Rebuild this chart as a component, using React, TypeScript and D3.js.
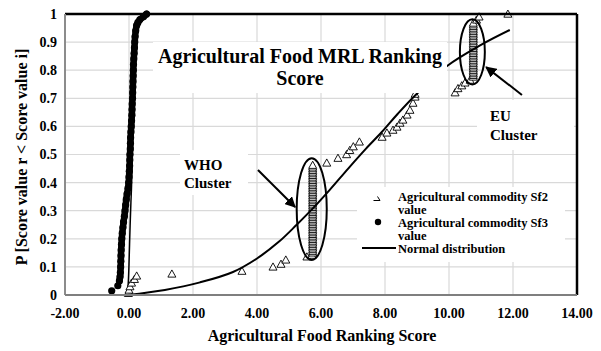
import React from "react";
import * as d3 from "d3";

const W = 601;
const H = 351;

const xTicks = [-2, 0, 2, 4, 6, 8, 10, 12, 14];
const xTickLabels = ["-2.00", "0.00", "2.00", "4.00", "6.00", "8.00", "10.00", "12.00", "14.00"];
const yTicks = [0, 0.1, 0.2, 0.3, 0.4, 0.5, 0.6, 0.7, 0.8, 0.9, 1];
const yTickLabels = ["0", "0.1", "0.2", "0.3", "0.4", "0.5", "0.6", "0.7", "0.8", "0.9", "1"];

// Agricultural commodity Sf3 value (black dots)
const sf3Y = [0.015, 0.033, 0.05, 0.065, 0.08, 0.1, 0.12, 0.14, 0.16, 0.18, 0.2, 0.22, 0.24, 0.26, 0.28, 0.3, 0.32, 0.34, 0.36, 0.38, 0.4, 0.42, 0.44, 0.46, 0.48, 0.5, 0.52, 0.54, 0.56, 0.58, 0.6, 0.62, 0.64, 0.66, 0.68, 0.7, 0.72, 0.74, 0.76, 0.78, 0.8, 0.82, 0.84, 0.86, 0.88, 0.9, 0.92, 0.94, 0.96, 0.97, 0.98, 0.99, 1.0];
const sf3X = [-0.54, -0.35, -0.3, -0.28, -0.27, -0.26, -0.255, -0.25, -0.245, -0.235, -0.225, -0.21, -0.19, -0.17, -0.145, -0.125, -0.105, -0.085, -0.06, -0.03, -0.01, 0.0, 0.01, 0.02, 0.025, 0.03, 0.04, 0.045, 0.05, 0.06, 0.07, 0.08, 0.09, 0.095, 0.1, 0.11, 0.115, 0.12, 0.125, 0.13, 0.135, 0.14, 0.15, 0.16, 0.17, 0.18, 0.19, 0.21, 0.24, 0.28, 0.34, 0.45, 0.55];

// Agricultural commodity Sf2 value (open triangles), scattered points
const sf2X = [-0.02, -0.01, 0.0, 0.03, 0.08, 0.17, 0.24, 1.34, 3.53, 4.5, 4.75, 4.9, 5.56, 5.72, 6.18, 6.53, 6.8, 6.9, 7.01, 7.2, 7.91, 8.06, 8.25, 8.375, 8.47, 8.56, 8.69, 8.78, 8.875, 8.94, 8.94, 10.19, 10.28, 10.4, 10.5, 10.66, 10.86, 10.94, 11.84];
const sf2Y = [0.006, 0.012, 0.018, 0.03, 0.043, 0.056, 0.068, 0.075, 0.085, 0.1, 0.11, 0.125, 0.136, 0.142, 0.47, 0.487, 0.5, 0.515, 0.528, 0.545, 0.562, 0.577, 0.587, 0.598, 0.612, 0.623, 0.641, 0.658, 0.683, 0.705, 0.715, 0.72, 0.735, 0.745, 0.755, 0.765, 0.979, 0.99, 1.0];

// Sf2 values in the WHO cluster (x ≈ 5.74)
const whoClusterX = 5.74;
const whoClusterY = [0.15, 0.156, 0.162, 0.168, 0.174, 0.18, 0.186, 0.192, 0.198, 0.204, 0.21, 0.216, 0.222, 0.228, 0.234, 0.24, 0.246, 0.252, 0.258, 0.264, 0.27, 0.276, 0.282, 0.288, 0.294, 0.3, 0.306, 0.312, 0.318, 0.324, 0.33, 0.336, 0.342, 0.348, 0.354, 0.36, 0.366, 0.372, 0.378, 0.384, 0.39, 0.396, 0.402, 0.408, 0.414, 0.42, 0.426, 0.432, 0.438, 0.444, 0.45, 0.456, 0.462];

// Sf2 values in the EU cluster (x ≈ 10.76)
const euClusterX = 10.76;
const euClusterY = [0.776, 0.782, 0.788, 0.794, 0.8, 0.806, 0.812, 0.818, 0.824, 0.83, 0.836, 0.842, 0.848, 0.854, 0.86, 0.866, 0.872, 0.878, 0.884, 0.89, 0.896, 0.902, 0.908, 0.914, 0.92, 0.926, 0.932, 0.938, 0.944, 0.95, 0.956, 0.962, 0.968];

// Normal distribution (Sf2)
const normalX = [-0.05, 1.12, 2.22, 3.25, 4.0, 4.69, 5.24, 5.76, 6.28, 6.85, 7.4, 7.9, 8.4, 8.94, 9.94, 11.0, 11.9];
const normalY = [0.0, 0.018, 0.045, 0.082, 0.13, 0.19, 0.25, 0.31, 0.375, 0.45, 0.52, 0.58, 0.645, 0.71, 0.815, 0.89, 0.943];

// Normal distribution (Sf3)
const normal3X = [-0.05, -0.02, 0.0, 0.03, 0.06, 0.08, 0.1, 0.12, 0.14, 0.17, 0.2, 0.26, 0.4, 0.55];
const normal3Y = [0.0, 0.05, 0.11, 0.23, 0.33, 0.39, 0.5, 0.62, 0.75, 0.87, 0.93, 0.96, 0.985, 1.0];

const FONT = "'Liberation Serif', 'Times New Roman', serif";

export default function App() {
  const x = d3.scaleLinear().domain([-2, 14]).range([65, 577]);
  const y = d3.scaleLinear().domain([0, 1]).range([295, 14]);

  const lineCR = d3
    .line<[number, number]>()
    .x((d) => x(d[0]))
    .y((d) => y(d[1]))
    .curve(d3.curveCatmullRom);

  const normalPts: [number, number][] = normalX.map((v, i) => [v, normalY[i]]);
  const normal3Pts: [number, number][] = normal3X.map((v, i) => [v, normal3Y[i]]);
  const sf3Pts: [number, number][] = sf3X.map((v, i) => [v, sf3Y[i]]);

  const tri = "M0,-4L4,3.2L-4,3.2Z";

  const sf2All: [number, number][] = [
    ...sf2X.map((v, i) => [v, sf2Y[i]] as [number, number]),
    ...whoClusterY.map((v) => [whoClusterX, v] as [number, number]),
    ...euClusterY.map((v) => [euClusterX, v] as [number, number]),
  ].sort((a, b) => a[1] - b[1]);

  // annotations in data space
  const whoEll = { cx: 5.71, cy: 0.306, rx: 0.47, ry: 0.181 };
  const euEll = { cx: 10.73, cy: 0.865, rx: 0.39, ry: 0.116 };
  const whoArrow = { x1: 4.03, y1: 0.445, x2: 5.19, y2: 0.313 };
  const euArrow = { x1: 12.28, y1: 0.712, x2: 11.16, y2: 0.811 };

  const grid = "#d9d9d9";

  return (
    <svg width={W} height={H} style={{ position: "absolute", left: 0, top: 0, background: "#fff" }} fontFamily={FONT} fontWeight="bold">
      <defs>
        <marker id="arrow" viewBox="0 0 10 10" refX="9" refY="5" markerWidth="11" markerHeight="11" markerUnits="userSpaceOnUse" orient="auto">
          <path d="M0,0L10,5L0,10Z" fill="#000" />
        </marker>
      </defs>
      <rect x={0} y={0} width={W} height={H} fill="#fff" />
      {/* gridlines */}
      {yTicks.map((t) => (
        <line key={"gy" + t} x1={x(-2)} x2={x(14)} y1={y(t)} y2={y(t)} stroke={grid} strokeWidth={1.2} />
      ))}
      {xTicks.map((t) => (
        <line key={"gx" + t} x1={x(t)} x2={x(t)} y1={y(0)} y2={y(1)} stroke={grid} strokeWidth={1.2} />
      ))}

      {/* Sf3 dots (dense, drawn as thick band of markers) */}
      <path d={lineCR(sf3Pts.slice(2)) || ""} fill="none" stroke="#000" strokeWidth={6.5} strokeLinecap="round" strokeLinejoin="round" />
      {sf3X.map((v, i) => (
        <circle key={"d" + i} cx={x(v)} cy={y(sf3Y[i])} r={3.6} fill="#000" />
      ))}
      {/* Sf3 normal line */}
      <path d={lineCR(normal3Pts) || ""} fill="none" stroke="#000" strokeWidth={1.5} />

      {/* Sf2 triangles */}
      {sf2All.map((d, i) => (
        <path key={"t" + i} d={tri} transform={`translate(${x(d[0])},${y(d[1])})`} fill="#fff" stroke="#000" strokeWidth={0.9} />
      ))}

      {/* Sf2 normal distribution */}
      <path d={lineCR(normalPts) || ""} fill="none" stroke="#000" strokeWidth={2} />

      {/* ellipses */}
      <ellipse cx={x(whoEll.cx)} cy={y(whoEll.cy)} rx={x(whoEll.cx + whoEll.rx) - x(whoEll.cx)} ry={y(0) - y(whoEll.ry)} fill="none" stroke="#000" strokeWidth={2} />
      <ellipse cx={x(euEll.cx)} cy={y(euEll.cy)} rx={x(euEll.cx + euEll.rx) - x(euEll.cx)} ry={y(0) - y(euEll.ry)} fill="none" stroke="#000" strokeWidth={2} />

      {/* arrows */}
      <line x1={x(whoArrow.x1)} y1={y(whoArrow.y1)} x2={x(whoArrow.x2)} y2={y(whoArrow.y2)} stroke="#000" strokeWidth={2} markerEnd="url(#arrow)" />
      <line x1={x(euArrow.x1)} y1={y(euArrow.y1)} x2={x(euArrow.x2)} y2={y(euArrow.y2)} stroke="#000" strokeWidth={2} markerEnd="url(#arrow)" />

      {/* text boxes with white fill */}
      <rect x={153} y={42} width={294} height={51} fill="#fff" />
      <rect x={180} y={150} width={68} height={45} fill="#fff" />
      <rect x={477} y={100} width={97} height={50} fill="#fff" />
      <rect x={357} y={187} width={208} height={75} fill="#fff" />

      {/* title */}
      <text x={300} y={63} textAnchor="middle" fontSize={20}>Agricultural Food MRL Ranking</text>
      <text x={300} y={85} textAnchor="middle" fontSize={20}>Score</text>

      {/* cluster labels */}
      <text x={184} y={170} fontSize={15}>WHO</text>
      <text x={184} y={188} fontSize={15}>Cluster</text>
      <text x={490} y={121} fontSize={15}>EU</text>
      <text x={490} y={140} fontSize={15}>Cluster</text>

      {/* legend */}
      <path d="M-3.5,2.5H3L0.5,-1.5" transform="translate(377,198)" fill="none" stroke="#000" strokeWidth={1} />
      <text x={398} y={201} fontSize={12.5}>Agricultural commodity Sf2</text>
      <text x={398} y={213.5} fontSize={12.5}>value</text>
      <circle cx={378} cy={222} r={3.2} fill="#000" />
      <text x={398} y={227} fontSize={12.5}>Agricultural commodity Sf3</text>
      <text x={398} y={239.5} fontSize={12.5}>value</text>
      <line x1={362} x2={396} y1={248} y2={248} stroke="#000" strokeWidth={2} />
      <text x={398} y={253} fontSize={12.5}>Normal distribution</text>

      {/* frame */}
      <line x1={x(-2)} x2={x(14)} y1={y(1)} y2={y(1)} stroke="#000" strokeWidth={2.5} />
      <line x1={x(14)} x2={x(14)} y1={y(1)} y2={y(0)} stroke="#000" strokeWidth={2.5} />
      <line x1={x(-2)} x2={x(-2)} y1={y(1)} y2={y(0)} stroke="#8c8c8c" strokeWidth={2} />
      <line x1={x(-2)} x2={x(14)} y1={y(0)} y2={y(0)} stroke="#7f7f7f" strokeWidth={2.2} />

      {/* tick labels */}
      {yTicks.map((t, i) => (
        <text key={"yl" + t} x={57} y={y(t)} dy="0.35em" textAnchor="end" fontSize={14}>{yTickLabels[i]}</text>
      ))}
      {xTicks.map((t, i) => (
        <text key={"xl" + t} x={x(t)} y={318} textAnchor="middle" fontSize={14}>{xTickLabels[i]}</text>
      ))}

      {/* axis titles */}
      <text x={322} y={341} textAnchor="middle" fontSize={16}>Agricultural Food Ranking Score</text>
      <text transform="translate(27,157) rotate(-90)" textAnchor="middle" fontSize={16}>P [Score value r &lt; Score value i]</text>
    </svg>
  );
}
